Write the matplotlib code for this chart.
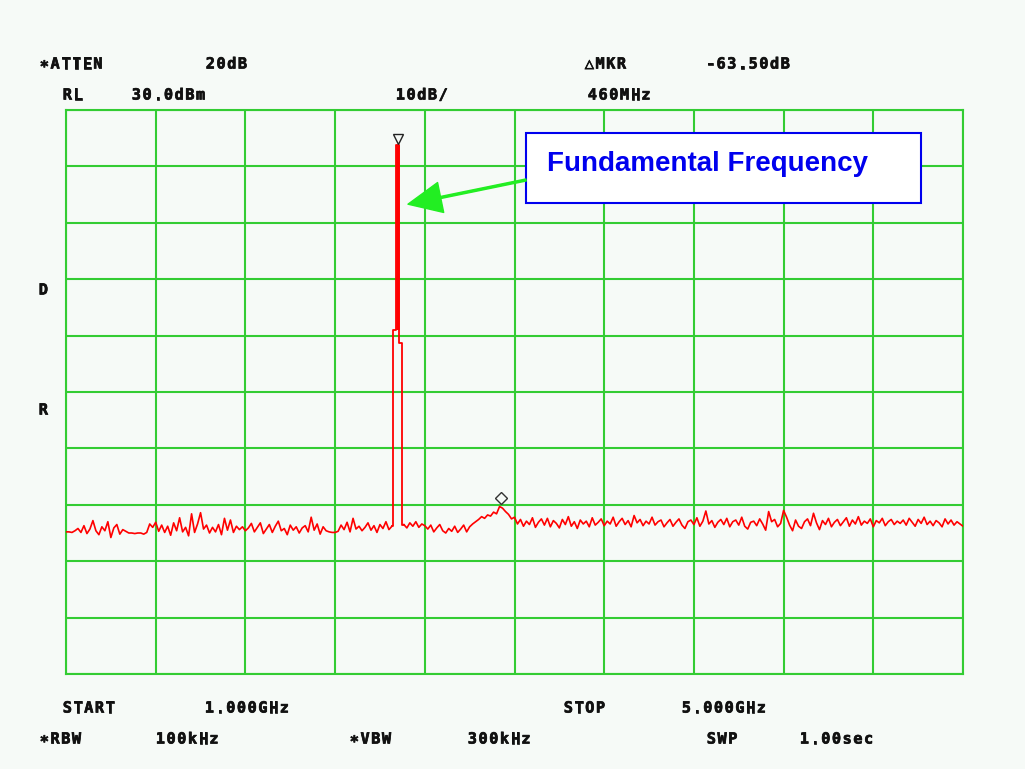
import numpy as np
import matplotlib.pyplot as plt
import matplotlib.patheffects as pe
from matplotlib.patches import Rectangle
from matplotlib.transforms import offset_copy

# sweep settings
START_GHZ = 1.0
STOP_GHZ = 5.0
REF_LEVEL = 30.0      # dBm, top graticule line
DB_PER_DIV = 10.0
N_DIV = 10

# trace samples (dBm), 301 points evenly spaced from START to STOP
trace_dbm = [
    -44.8, -44.8, -44.9, -44.6, -44.2, -44.9, -43.7, -45.1, -44.3, -42.8,
    -44.6, -45.3, -43.9, -44.6, -43.0, -45.8, -44.1, -43.5, -45.2, -44.4,
    -44.7, -45.0, -45.0, -45.1, -45.0, -45.0, -45.2, -44.9, -43.4, -44.0,
    -43.1, -44.7, -43.6, -44.9, -43.8, -45.4, -43.2, -44.6, -42.3, -44.8,
    -44.0, -45.5, -41.6, -44.9, -43.4, -41.4, -44.3, -43.6, -45.0, -44.0,
    -44.8, -43.5, -45.3, -42.4, -44.5, -42.7, -44.9, -43.8, -44.4, -43.9,
    -44.6, -44.1, -43.3, -44.8, -44.0, -43.2, -45.1, -44.3, -43.5, -44.9,
    -43.8, -42.9, -44.6, -44.2, -45.3, -43.6, -44.5, -43.9, -45.0, -44.1,
    -43.7, -44.8, -42.2, -44.5, -43.4, -45.2, -43.9, -44.6, -44.8, -44.9,
    -44.9, -44.7, -43.6, -44.4, -43.1, -44.8, -42.4, -44.3, -43.8, -44.6,
    -44.0, -43.2, -44.5, -43.7, -44.9, -43.5, -44.2, -43.0, -44.4, -43.8,
    -9.0, 23.8, -11.3,
    -43.5, -44.1, -43.2, -43.8, -43.0, -44.0, -43.4,
    -43.7, -44.3, -43.6, -44.8, -44.1, -43.5, -44.6, -45.0, -44.2, -44.7,
    -43.8, -44.9, -44.3, -43.6, -44.8, -43.9, -43.4, -43.0, -42.6, -42.1,
    -42.4, -41.8, -42.0, -41.3, -41.6, -40.3, -40.6, -41.2, -41.7, -42.5,
    -42.2, -43.4, -42.6, -43.8, -42.9, -43.5, -42.3, -44.0, -43.1, -42.5,
    -43.6, -42.4, -43.9, -42.8, -43.3, -44.1, -42.6, -43.5, -42.1, -43.8,
    -43.0, -44.2, -42.7, -43.4, -42.9, -43.9, -42.3, -43.6, -43.1, -42.5,
    -43.7, -42.9, -43.4, -42.2, -43.8, -43.0, -42.4, -43.5, -42.8, -43.9,
    -41.9, -43.2, -42.6, -43.7, -42.9, -43.4, -42.2, -43.6, -43.0, -42.7,
    -43.9, -43.2, -42.6, -43.8, -43.1, -42.5, -43.6, -44.2, -43.0, -42.7,
    -43.5, -42.3, -43.8, -42.9, -41.1, -43.4, -42.8, -44.0, -43.1, -42.6,
    -43.5, -42.4, -43.9, -43.0, -42.7, -43.6, -42.2, -43.8, -44.3, -43.1,
    -42.9, -43.7, -42.5, -43.4, -44.5, -41.2, -43.0, -42.6, -43.9, -43.3,
    -41.0, -42.2, -43.6, -44.6, -42.7, -43.8, -44.2, -43.0, -42.5, -43.7,
    -41.5, -43.2, -44.4, -42.8, -43.5, -42.4, -43.9, -43.1, -42.6, -43.7,
    -43.0, -42.3, -43.8, -42.7, -43.4, -42.1, -43.6, -42.9, -43.3, -42.5,
    -43.9, -42.8, -43.2, -42.4, -43.7, -43.0, -42.6, -43.5, -42.9, -43.3,
    -42.7, -43.6, -42.4, -43.1, -43.8, -42.6, -43.3, -42.2, -43.5, -42.9,
    -43.7, -42.8, -43.2, -43.9, -42.5, -43.4, -42.7, -43.6, -43.0, -43.4,
    -43.8,
]
assert len(trace_dbm) == 301
freq_ghz = np.linspace(START_GHZ, STOP_GHZ, len(trace_dbm))

# delta marker readout
delta_db = -63.50
delta_mhz = 460

level = np.array(trace_dbm)
peak_idx = int(np.argmax(level))
peak_f = freq_ghz[peak_idx]
peak_lvl = level[peak_idx]
mkr_f = peak_f + delta_mhz / 1000
mkr_lvl = peak_lvl + delta_db

BG = "#f6faf7"
GRID = "#33cc33"
RED = "#ff0000"
W, H = 1025, 769

fig = plt.figure(figsize=(W / 100, H / 100), dpi=100, facecolor=BG)
ax = fig.add_axes([66 / W, 95 / H, 897 / W, 564 / H], facecolor=BG)

bottom = REF_LEVEL - N_DIV * DB_PER_DIV
ax.set_xlim(START_GHZ, STOP_GHZ)
ax.set_ylim(bottom, REF_LEVEL)
ax.set_xticks(np.linspace(START_GHZ, STOP_GHZ, N_DIV + 1))
ax.set_yticks(np.arange(bottom, REF_LEVEL + 1, DB_PER_DIV))
ax.grid(True, color=GRID, linewidth=1.5)
ax.tick_params(length=0, labelbottom=False, labelleft=False)
for sp in ax.spines.values():
    sp.set_color(GRID)
    sp.set_linewidth(1.5)

# noise floor as a plain line, the carrier bins as flat steps
lo, hi = peak_idx - 2, peak_idx + 2
ax.plot(freq_ghz[:lo + 1], level[:lo + 1], color=RED, linewidth=1.2, zorder=3)
ax.plot(freq_ghz[hi:], level[hi:], color=RED, linewidth=1.2, zorder=3)
ax.plot(freq_ghz[lo:hi + 1], level[lo:hi + 1], color=RED, linewidth=1.3,
        drawstyle="steps-mid", zorder=3)
ax.plot([peak_f, peak_f], [level[peak_idx - 1], peak_lvl], color=RED,
        linewidth=2.6, zorder=3, solid_capstyle="butt")

# markers sit just above the trace
up = offset_copy(ax.transData, fig=fig, y=4, units="points")
ax.plot(peak_f, peak_lvl, marker="v", markersize=7, mfc="none",
        mec="#222222", mew=1.0, transform=up, zorder=4)
ax.plot(mkr_f, mkr_lvl, marker="D", markersize=6, mfc="none",
        mec="#333333", mew=1.0, transform=up, zorder=4)

# callout box and arrow
ax.add_patch(Rectangle((0.5128, 0.8351), 0.4404, 0.1241, transform=ax.transAxes,
                       facecolor="white", edgecolor="#0000ee", linewidth=1.5, zorder=5))
ax.text(0.5362, 0.9042, "Fundamental Frequency", transform=ax.transAxes,
        color="#0000ee", fontsize=20, fontweight="bold", family="Liberation Sans",
        ha="left", va="center", zorder=6)
ax.annotate("", xy=(2.525, 13.3), xycoords="data",
            xytext=(0.5128, 0.8759), textcoords="axes fraction",
            arrowprops=dict(facecolor="#22ee22", edgecolor="#22ee22",
                            width=1.5, headwidth=22, headlength=24, shrink=0),
            zorder=6)

# instrument readouts, fixed character pitch like the screen font
labels = [
    ("\u2217ATTEN", 39, 64), ("20dB", 205, 64),
    ("\u25b3MKR", 584, 64), (f"{delta_db:.2f}dB", 705, 64),
    ("RL", 62, 95), (f"{REF_LEVEL:.1f}dBm", 131, 95),
    (f"{DB_PER_DIV:.0f}dB/", 395, 95), (f"{delta_mhz}MHz", 587, 95),
    ("D", 38, 290), ("R", 38, 410),
    ("START", 62, 708), (f"{START_GHZ:.3f}GHz", 204, 708),
    ("STOP", 563, 708), (f"{STOP_GHZ:.3f}GHz", 681, 708),
    ("\u2217RBW", 39, 739), ("100kHz", 155, 739),
    ("\u2217VBW", 349, 739), ("300kHz", 467, 739),
    ("SWP", 706, 739), ("1.00sec", 799, 739),
]
PITCH = 10.7
heavy = [pe.withStroke(linewidth=0.5, foreground="#111111")]
for txt, px, py in labels:
    for k, ch in enumerate(txt):
        fig.text((px + (k + 0.5) * PITCH) / W, 1 - py / H, ch, fontsize=11,
                 fontweight="bold", family=["DejaVu Sans Mono", "DejaVu Sans"],
                 color="#111111", ha="center", va="center", path_effects=heavy)

fig.savefig("out.png", dpi=100, facecolor=BG)
